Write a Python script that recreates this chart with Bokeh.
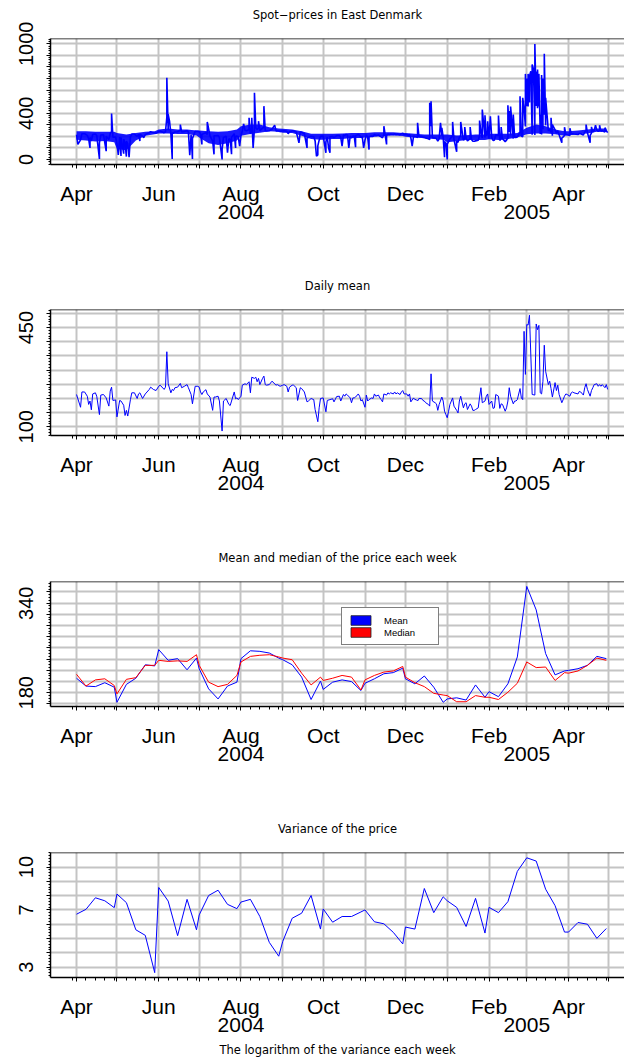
import datetime as dt
import numpy as np
from bokeh.plotting import figure
from bokeh.layouts import column
from bokeh.models import Range1d, FixedTicker, Span, Legend, LegendItem, LinearAxis
from bokeh.embed import file_html
from bokeh.resources import INLINE

START = dt.date(2004, 4, 1)

# ---------------- data ----------------
month_text = {"2004-04": "Apr", "2004-06": "Jun", "2004-08": "Aug", "2004-10": "Oct",
              "2004-12": "Dec", "2005-02": "Feb", "2005-04": "Apr"}
year_text = {"2004-08": "2004", "2005-03": "2005"}

titles = ["Spot\u2212prices in East Denmark", "Daily mean",
          "Mean and median of the price each week", "Variance of the price"]
bottom_text = "The logarithm of the variance each week"
legend_labels = ["Mean", "Median"]

# daily mean (day index from 2004-04-01, value)
daily_day = [0, 3, 4, 6, 8, 9, 10, 11, 12, 14, 15, 17, 18, 20, 22, 24, 25, 26, 27, 29, 30, 32, 33, 35, 36, 37, 38,
             40, 41, 43, 45, 46, 47, 49, 51, 54, 55, 57, 59, 61, 62, 65, 66, 67, 68, 70, 71, 72, 73, 75, 77, 78,
             80, 82, 83, 85, 86, 88, 90, 91, 92, 93, 94, 96, 97, 99, 101, 102, 103, 105, 106, 108, 109, 111,
             113, 114, 115, 117, 118, 119, 120, 122, 123, 125, 126, 128, 129, 130, 132, 133, 134, 135, 136,
             138, 139, 140, 141, 143, 145, 148, 149, 151, 153, 154, 156, 157, 158, 160, 161, 163, 164, 166,
             167, 169, 171, 172, 174, 176, 177, 179, 180, 181, 183, 185, 186, 188, 190, 191, 193, 195,
             196, 198, 199, 200, 201, 203, 204, 205, 206, 207, 209, 210, 211, 212, 214, 215, 216, 217, 219,
             220, 221, 222, 224, 225, 226, 227, 228, 230, 231, 232, 233, 235, 236, 237, 238, 240, 241, 242,
             243, 245, 246, 247, 248, 250, 251, 252, 253, 254, 256, 257, 258, 259, 261, 262, 263, 264, 266,
             267, 268, 269, 271, 272, 273, 274, 275, 276, 277, 279, 280, 282, 283, 284, 285, 287, 288, 289,
             290, 292, 293, 294, 295, 296, 298, 299, 300, 301, 303, 304, 305, 306, 308, 309, 310, 311, 313,
             314, 315, 316, 318, 319, 320, 321, 322, 324, 325, 326, 327, 329, 330, 331, 332, 333, 334, 335,
             336, 338, 340, 341, 342, 343, 344, 345, 346, 347, 348, 350, 351, 352, 353, 355, 356, 357, 358,
             360, 361, 362, 363, 364, 366, 367, 368, 369, 372, 373, 374, 376, 377, 378, 379, 381, 382, 383,
             384, 386, 387, 388, 389, 390, 392, 393, 394]
daily_mean = [214, 169, 223, 223, 208, 179, 191, 160, 216, 220, 208, 143, 212, 214, 202, 173, 226, 240, 193, 195, 135, 193, 191, 176, 140, 158, 138,
              196, 220, 220, 200, 216, 220, 200, 216, 232, 240, 232, 228, 243, 247, 232, 240, 365, 252, 220, 232, 228, 238, 240, 253, 238,
              243, 249, 238, 214, 181, 243, 243, 240, 223, 214, 223, 231, 216, 205, 158, 205, 205, 208, 191, 85, 191, 200,
              179, 175, 191, 223, 199, 202, 196, 208, 247, 252, 249, 259, 220, 275, 271, 275, 259, 271, 249,
              271, 279, 249, 247, 249, 261, 247, 249, 243, 247, 249, 243, 223, 240, 247, 247, 238, 193, 238,
              235, 223, 188, 191, 200, 196, 161, 118, 167, 200, 202, 153, 193, 196, 199, 188, 207, 208,
              191, 214, 208, 216, 212, 202, 185, 202, 202, 205, 216, 208, 191, 196, 169, 212, 191, 196, 202,
              200, 216, 208, 212, 202, 196, 188, 216, 212, 220, 216, 220, 216, 223, 216, 220, 214, 223, 228,
              216, 216, 208, 216, 188, 202, 196, 196, 191, 200, 200, 193, 191, 185, 179, 173, 287, 191, 185,
              181, 158, 179, 205, 191, 155, 143, 132, 155, 179, 202, 173, 158, 149, 191, 208, 167, 181, 185,
              161, 181, 173, 158, 158, 161, 167, 205, 238, 185, 191, 208, 216, 179, 191, 165, 167, 214, 208,
              165, 181, 179, 155, 167, 191, 238, 208, 181, 191, 191, 196, 235, 202, 196, 437, 285, 461, 459,
              494, 214, 212, 463, 443, 458, 220, 216, 261, 388, 296, 249, 261, 235, 205, 256, 228, 247, 214,
              185, 196, 208, 216, 214, 208, 220, 223, 220, 216, 225, 223, 212, 238, 252, 232, 208, 228, 238,
              249, 252, 243, 249, 243, 249, 238, 249, 232]

# hourly spot price: typical daily band per week plus isolated spikes / dips
band_hi = [245, 245, 239, 239, 239, 230, 216, 230, 239, 245, 259, 268, 259, 259, 251,
           251, 245, 239, 245, 259, 288, 302, 302, 279, 268, 265, 259, 245, 222, 222,
           222, 222, 225, 228, 230, 230, 236, 236, 236, 230, 228, 222, 216, 216, 216,
           216, 207, 210, 216, 216, 222, 222, 222, 230, 274, 302, 288, 259, 245,
           245, 251, 259, 268, 268]
band_lo = [170, 165, 155, 160, 150, 90, 80, 165, 205, 218, 225, 225, 220, 220, 208,
           190, 140, 125, 140, 165, 205, 220, 232, 245, 240, 232, 228, 205, 178, 170,
           170, 178, 178, 185, 185, 190, 196, 204, 208, 204, 196, 190, 184, 178, 170,
           150, 158, 168, 168, 168, 176, 168, 176, 190, 218, 225, 225, 218, 205,
           210, 218, 225, 240, 240]
spike_day = [1, 10, 17, 22, 26, 31, 33, 35, 37, 39, 47, 50, 67, 68, 69, 71, 77,
             84, 86, 93, 97, 102, 108, 112, 115, 118, 121, 124, 128, 130, 131, 132, 135, 139,
             147, 165, 171, 178, 179, 185, 187, 188, 197, 202, 207, 213, 217, 228, 230, 249, 253,
             262, 263, 270, 271, 273, 275, 279, 282, 285, 288, 292,
             299, 301, 303, 305, 307, 313, 315, 320, 321, 322, 324, 329, 331,
             333, 334, 335, 336, 337, 338, 339, 340, 341, 342, 343, 344, 345, 346, 347, 348, 352, 353,
             360, 362, 366, 378, 381, 382, 385, 388, 392]
spike_val = [130, 100, 5, 72, 397, 40, 30, 50, 25, 20, 160, 190, 706, 389, 331, 5, 302,
             37, 5, 130, 325, 45, 0, 58, 45, 100, 115, 308, 360, 360, 100, 576, 331, 461,
             297, 144, 100, 29, 40, 58, 100, 58, 115, 100, 106, 100, 86, 288, 130, 115, 317,
             490, 504, 317, 274, 20, 0, 325, 66, 325, 280, 280,
             337, 432, 383, 330, 374, 380, 280, 469, 420, 458, 389, 547, 533,
             740, 700, 740, 720, 763, 821, 780, 999, 760, 778, 740, 389, 730, 700, 913, 533, 360, 302,
             144, 279, 270, 302, 144, 282, 297, 297, 275]

# weekly series (weeks starting on day 1, 8, 15, 22, 29 of each month)
mean_w = [206, 192, 191, 198, 190, 163, 195, 206, 230, 228, 257, 238, 241, 221, 242,
          223, 187, 169, 192, 199, 241, 255, 254, 251, 242, 239, 230, 208, 168, 201,
          186, 199, 203, 200, 184, 197, 205, 214, 216, 224, 205, 196, 210, 190, 163,
          169, 171, 167, 194, 172, 182, 173, 196, 244, 370, 328, 250, 212, 219,
          220, 223, 229, 245, 241]
median_w = [213, 192, 203, 205, 193, 178, 204, 207, 229, 229, 238, 236, 237, 236, 248,
            229, 199, 191, 195, 211, 235, 245, 247, 248, 244, 242, 239, 215, 194, 208,
            202, 206, 211, 208, 185, 203, 211, 217, 219, 227, 208, 198, 191, 179, 176,
            175, 164, 164, 175, 172, 172, 168, 181, 197, 235, 225, 226, 202, 216,
            215, 219, 229, 242, 238]
logvar_w = [6.70, 7.04, 7.85, 7.64, 7.16, 8.11, 7.51, 5.61, 5.22, 2.61, 8.57, 7.62, 5.20, 7.74, 5.61,
            6.65, 8.01, 8.38, 7.39, 7.09, 7.55, 7.74, 6.54, 4.73, 3.76, 4.80, 6.42, 6.77, 8.01, 5.66,
            7.07, 6.14, 6.54, 6.54, 6.86, 7.00, 6.17, 6.03, 5.43, 4.62, 5.80, 5.66, 8.50, 6.81, 7.92,
            7.64, 7.18, 5.84, 7.81, 5.38, 7.18, 6.81, 7.58, 9.70, 10.65, 10.42, 8.45, 7.30, 5.45,
            5.45, 6.12, 6.00, 5.01, 5.70]


def days(d):
    return (d - START).days


months = [dt.date(2004 + (3 + i) // 12, (3 + i) % 12 + 1, 1) for i in range(14)]
month_days = [days(m) for m in months]
month_overrides = {}
for m in months:
    key = m.strftime("%Y-%m")
    txt = month_text.get(key, "")
    if key in year_text:
        txt = txt + "\n" + year_text[key]
    month_overrides[days(m)] = txt


def week_starts(a, b):
    out = []
    d = a
    while d <= b:
        if d.day in (1, 8, 15, 22, 29):
            out.append(days(d))
        d += dt.timedelta(days=1)
    return out


tick_weeks = week_starts(dt.date(2004, 3, 29), dt.date(2005, 5, 1))
week_days = week_starts(START, dt.date(2005, 4, 29))

# ---------------- layout ----------------
X0, X1 = -19.3, 406.5
AXFONT = "Liberation Sans"
TFONT = "DejaVu Sans"
GRID = "#c4c4c4"

panels = [
    dict(h=270, top=38, frame=126, y0=-43.2, y1=1045.8, grid=list(range(0, 1001, 100)), labels=[0, 400, 1000], minor=20),
    dict(h=271, top=39, frame=126, y0=69.3, y1=514.1, grid=list(range(100, 501, 50)), labels=[100, 450], minor=10),
    dict(h=270, top=40, frame=125, y0=155.5, y1=378.75, grid=list(range(160, 361, 20)), labels=[180, 340], minor=5),
    dict(h=249, top=41, frame=126, y0=2.27, y1=11.02, grid=list(range(3, 11)), labels=[3, 7, 10], minor=0.2),
]


def make_panel(cfg, title):
    h, top, fh, y0, y1 = cfg["h"], cfg["top"], cfg["frame"], cfg["y0"], cfg["y1"]
    p = figure(width=624, height=h, x_range=Range1d(X0, X1), y_range=Range1d(y0, y1),
               output_backend="svg", toolbar_location=None,
               min_border_left=50, min_border_right=0, min_border_top=top,
               min_border_bottom=h - top - fh)
    p.outline_line_color = None
    p.background_fill_color = "white"
    p.border_fill_color = "white"

    xa = p.below[0]
    xa.ticker = FixedTicker(ticks=month_days, minor_ticks=tick_weeks)
    xa.major_label_overrides = month_overrides
    xa.major_label_text_font = AXFONT
    xa.major_label_text_font_size = "21px"
    xa.major_label_text_line_height = 0.81
    xa.major_label_text_color = "black"
    xa.major_label_standoff = 13
    xa.major_tick_in = 0
    xa.major_tick_out = 4
    xa.minor_tick_in = 0
    xa.minor_tick_out = 3
    xa.axis_line_width = 1.5
    xa.axis_line_color = "black"
    xa.major_tick_line_color = "black"
    xa.minor_tick_line_color = "black"

    ya = p.left[0]
    step = cfg["minor"]
    minors = list(np.round(np.arange(np.ceil(y0 / step) * step, y1, step), 3))
    ya.ticker = FixedTicker(ticks=cfg["grid"], minor_ticks=minors)
    ya.major_label_overrides = {g: (str(g) if g in cfg["labels"] else "") for g in cfg["grid"]}
    ya.major_label_orientation = "vertical"
    ya.major_label_text_font = AXFONT
    ya.major_label_text_font_size = "20px"
    ya.major_label_text_color = "black"
    ya.major_label_standoff = 13
    ya.major_tick_in = 0
    ya.major_tick_out = 4
    ya.minor_tick_in = 0
    ya.minor_tick_out = 2
    ya.axis_line_width = 1.5
    ya.axis_line_color = "black"
    ya.major_tick_line_color = "black"
    ya.minor_tick_line_color = "black"

    p.xgrid.ticker = FixedTicker(ticks=month_days)
    p.ygrid.ticker = FixedTicker(ticks=cfg["grid"])
    for g in (p.xgrid[0], p.ygrid[0]):
        g.grid_line_color = GRID
        g.grid_line_width = 2

    # title drawn as the label of an empty axis above the frame
    ta = LinearAxis(ticker=FixedTicker(ticks=[], minor_ticks=[]), axis_label=title,
                    axis_line_color=None,
                    major_tick_in=0, major_tick_out=0, minor_tick_in=0, minor_tick_out=0,
                    major_label_standoff=0, major_label_text_font_size="0px",
                    axis_label_standoff=17, axis_label_text_font=TFONT,
                    axis_label_text_font_size="11.5px", axis_label_text_font_style="normal",
                    axis_label_text_color="black")
    p.add_layout(ta, "above")

    p.add_layout(Span(location=y1, dimension="width", line_color="black", line_width=1.5))
    return p


# Panel 1: spot prices
p1 = make_panel(panels[0], titles[0])
p1.varea(x=week_days, y1=band_lo, y2=band_hi, fill_color="blue", fill_alpha=0.9)
pts = sorted(zip(daily_day + spike_day, daily_mean + spike_val))
p1.line([a for a, b in pts], [b for a, b in pts], line_color="blue", line_width=1.6)

# Panel 2: daily mean
p2 = make_panel(panels[1], titles[1])
p2.line(daily_day, daily_mean, line_color="blue", line_width=1)

# Panel 3: weekly mean and median
p3 = make_panel(panels[2], titles[2])
p3.line(week_days, mean_w, line_color="blue", line_width=1)
p3.line(week_days, median_w, line_color="red", line_width=1)
sq_mean = p3.vbar(x=[np.nan], top=[np.nan], width=1, fill_color="blue", line_color="#222222", line_width=0.8)
sq_med = p3.vbar(x=[np.nan], top=[np.nan], width=1, fill_color="red", line_color="#222222", line_width=0.8)
leg = Legend(items=[LegendItem(label=legend_labels[0], renderers=[sq_mean]),
                    LegendItem(label=legend_labels[1], renderers=[sq_med])],
             location=(291, 61), margin=0, padding=6, spacing=0,
             glyph_width=25, glyph_height=12, label_height=12, label_width=48,
             label_standoff=11, label_text_font=AXFONT, label_text_font_size="9.5px",
             label_text_color="black", border_line_color="black", border_line_width=1,
             background_fill_color="white", background_fill_alpha=1.0)
p3.add_layout(leg, "center")

# Panel 4: log variance, caption as the x-axis label
p4 = make_panel(panels[3], titles[3])
p4.line(week_days, logvar_w, line_color="blue", line_width=1)
xa4 = p4.below[0]
xa4.axis_label = bottom_text
xa4.axis_label_standoff = 4
xa4.axis_label_text_font = TFONT
xa4.axis_label_text_font_size = "11.5px"
xa4.axis_label_text_font_style = "normal"
xa4.axis_label_text_color = "black"

layout = column(p1, p2, p3, p4, spacing=0)
open("out.html", "w").write(file_html(layout, INLINE))
